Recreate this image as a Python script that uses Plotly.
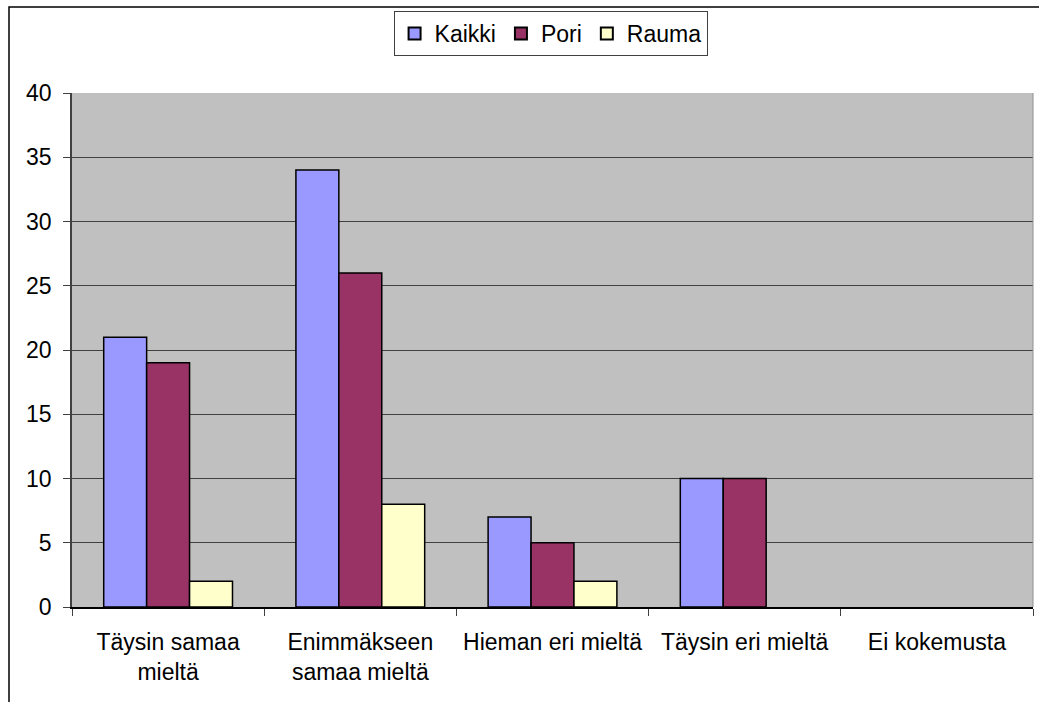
import plotly.graph_objects as go

categories = ["Täysin samaa<br>mieltä", "Enimmäkseen<br>samaa mieltä", "Hieman eri mieltä", "Täysin eri mieltä", "Ei kokemusta"]
kaikki = [21, 34, 7, 10, 0]
pori = [19, 26, 5, 10, 0]
rauma = [2, 8, 2, 0, 0]
series_names = ["Kaikki", "Pori", "Rauma"]
colors = ["#9999FF", "#993366", "#FFFFCC"]

W, H = 1039, 702
ml, mr, mt, mb = 72, 6, 93, 95
pw, ph = W - ml - mr, H - mt - mb

fig = go.Figure()
for name, vals, col in zip(series_names, [kaikki, pori, rauma], colors):
    widths = [1.5 if v > 0 else 0 for v in vals]
    fig.add_trace(go.Bar(x=categories, y=vals, name=name,
                         marker=dict(color=col, line=dict(color="black", width=widths))))

def px_x(p):
    return (p - ml) / pw

def px_y(p):
    return (H - mb - p) / ph

fig.update_layout(
    width=W, height=H,
    margin=dict(l=ml, r=mr, t=mt, b=mb),
    paper_bgcolor="white", plot_bgcolor="#C0C0C0",
    barmode="group", bargap=0.33, bargroupgap=0,
    font=dict(family="Liberation Sans, Arial, sans-serif", size=23, color="black"),
    showlegend=True,
    legend=dict(orientation="h", x=0.498, xanchor="center", y=px_y(11), yanchor="top",
                bordercolor="#404040", borderwidth=1, bgcolor="white",
                font=dict(size=23), itemsizing="constant", tracegroupgap=0,
                itemwidth=30),
    xaxis=dict(showline=True, linecolor="black", linewidth=1.5, ticks="outside",
               tickson="boundaries", ticklen=7, tickcolor="#404040", showgrid=False,
               mirror=False, ticklabelstandoff=14),
    yaxis=dict(range=[0, 40], dtick=5, showline=True, linecolor="#404040", linewidth=1.5,
               ticks="outside", ticklen=7, tickcolor="#404040", showgrid=True,
               gridcolor="#404040", gridwidth=1, zeroline=False, ticklabelstandoff=7),
    shapes=[
        dict(type="rect", xref="paper", yref="paper",
             x0=px_x(9), x1=px_x(1050), y0=px_y(7), y1=px_y(720),
             line=dict(color="black", width=1.5), layer="below"),
        dict(type="line", xref="paper", yref="paper", x0=1, x1=1, y0=0, y1=1,
             line=dict(color="#909090", width=1)),
    ],
)

fig.write_html("out.html")
